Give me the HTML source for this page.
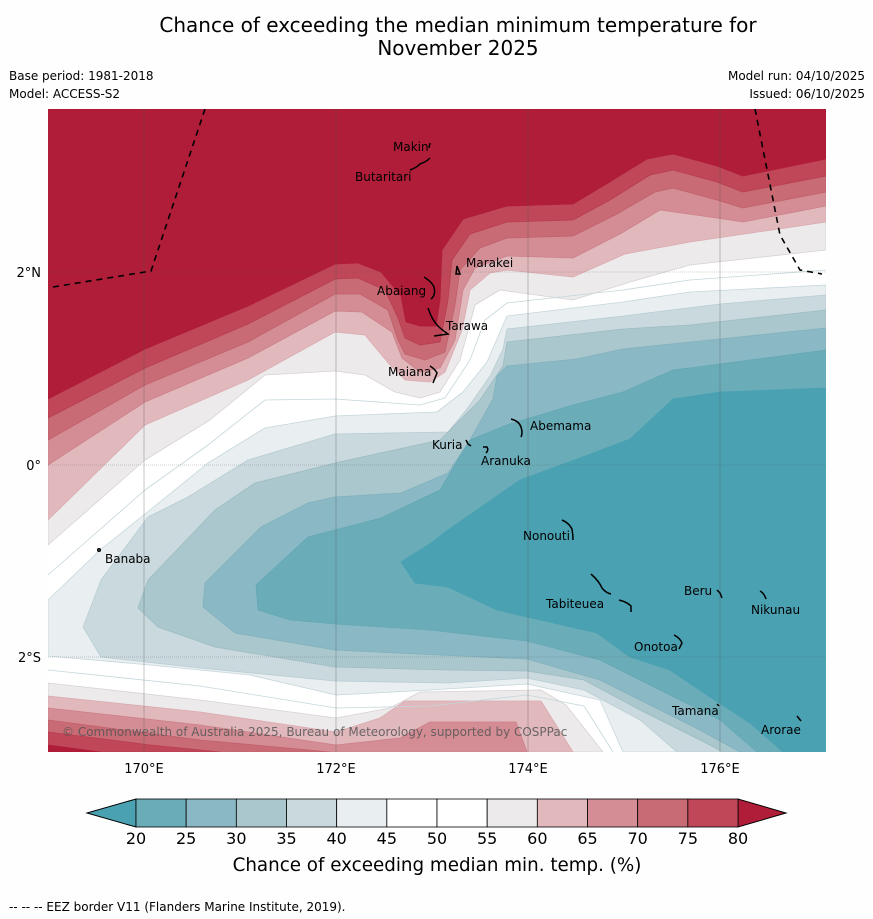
<!DOCTYPE html>
<html><head><meta charset="utf-8">
<style>
html,body{margin:0;padding:0;background:#fff;}
svg{display:block;font-family:"DejaVu Sans","Liberation Sans",sans-serif;}
</style></head>
<body>
<svg id="chart" width="873" height="919" viewBox="0 0 873 919" xmlns="http://www.w3.org/2000/svg">
<rect x="0" y="0" width="873" height="919" fill="#fefefe"/>
<text x="458" y="32" font-size="20" text-anchor="middle" fill="#000">Chance of exceeding the median minimum temperature for</text>
<text x="458" y="55" font-size="20" text-anchor="middle" fill="#000">November 2025</text>
<text x="9" y="80" font-size="12">Base period: 1981-2018</text>
<text x="9" y="98" font-size="12">Model: ACCESS-S2</text>
<text x="865" y="80" font-size="12" text-anchor="end">Model run: 04/10/2025</text>
<text x="865" y="98" font-size="12" text-anchor="end">Issued: 06/10/2025</text>

<defs><clipPath id="mapclip"><rect x="48" y="109" width="778" height="643"/></clipPath></defs>
<g id="map" clip-path="url(#mapclip)">
<rect x="48" y="109" width="778" height="643" fill="#ffffff"/>
<g stroke-width="0.8" stroke-linejoin="round">
<polygon fill="#e9eff1" stroke="#c5d6db" points="826,285 690,292 623,302 507,316 500,332 487,362 463,392 437,412 335,416 265,428 208,463 150,510 100,550 48,600 48,656 150,665 250,675 336,695 430,690 527,684 600,700 623,752 826,752"/>
<polygon fill="#cad9de" stroke="#b8cdd3" points="826,295 720,304 623,316 507,329 503,349 490,376 467,409 448,432 335,434 248,460 188,497 148,517 101,580 83,627 101,657 200,668 335,681 448,683 527,678 584,690 640,720 677,752 826,752"/>
<polygon fill="#a9c7cc" stroke="#9dbcc2" points="826,310 690,325 623,329 507,342 503,366 480,400 460,420 440,440 335,463 255,483 215,510 148,580 138,608 158,627 215,647 335,667 448,670 527,671 584,680 640,710 700,740 723,752 826,752"/>
<polygon fill="#8ab9c5" stroke="#80b1bc" points="826,328 720,339 623,349 577,359 507,366 497,376 493,399 470,440 448,473 401,493 335,497 308,503 261,527 205,583 203,607 235,633 335,650 440,655 527,659 600,680 640,700 700,730 740,752 826,752"/>
<polygon fill="#6aadb9" stroke="#64a8b4" points="826,350 690,368 673,370 623,392 573,405 507,425 470,440 440,490 381,518 308,537 256,585 258,610 290,620 336,624 430,630 527,641 600,660 660,690 720,720 757,752 826,752"/>
<polygon fill="#4aa1b2" stroke="#4aa1b2" points="826,388 720,392 673,399 630,439 580,458 520,480 448,530 431,543 401,562 415,583 448,587 497,610 597,633 630,657 670,670 710,697 750,723 783,752 826,752"/>

<polygon fill="#eceaeb" stroke="#d8d2d4" points="48,109 48,545 145,460 210,420 265,375 335,371 365,375 395,392 420,398 440,392 460,360 475,305 500,290 573,300 630,282 690,265 826,250 826,109"/>
<polygon fill="#e1b9bd" stroke="#d9aab0" points="48,109 48,520 145,425 248,380 335,332 365,335 390,365 405,380 430,382 445,372 462,330 470,290 490,273 507,270 573,277 625,254 690,242 826,222 826,109"/>
<polygon fill="#d48d95" stroke="#cc8089" points="48,109 48,465 145,402 248,358 335,311 362,312 392,332 402,358 420,372 440,368 455,340 463,290 475,268 507,256 573,258 620,234 660,210 717,218 743,222 826,206 826,109"/>
<polygon fill="#c86b75" stroke="#c0606b" points="48,109 48,440 145,385 248,342 335,294 360,294 388,310 398,340 405,354 425,360 445,352 455,305 460,270 480,248 507,238 573,236 615,215 655,192 673,188 717,200 743,208 826,192 826,109"/>
<polygon fill="#bf4757" stroke="#b83d4d" points="48,109 48,418 145,368 248,324 335,279 358,278 385,290 398,318 405,338 420,345 440,342 448,300 452,260 470,234 507,222 573,220 610,200 650,175 673,170 717,182 743,192 826,176 826,109"/>
<polygon fill="#b01d38" stroke="#b01d38" points="48,109 48,399 145,349 248,306 335,264 358,263 381,272 401,296 406,322 420,326 436,326 440,300 442,250 463,219 507,206 573,204 603,186 647,159 673,154 717,166 743,176 826,159 826,109"/>

<polygon fill="#eceaeb" stroke="#d8d2d4" points="48,683 200,700 336,718 390,708 420,692 541,690 566,705 603,752 48,752"/>
<polygon fill="#e1b9bd" stroke="#d9aab0" points="48,696 200,712 336,732 380,718 405,701 541,701 573,752 48,752"/>
<polygon fill="#d48d95" stroke="#cc8089" points="48,708 200,725 336,745 400,738 430,722 516,722 527,752 48,752"/>
<polygon fill="#c86b75" stroke="#c0606b" points="48,720 200,740 330,752 48,752"/>
<polygon fill="#bf4757" stroke="#b83d4d" points="48,732 150,745 220,752 48,752"/>
<polygon fill="#b01d38" stroke="#b01d38" points="48,745 100,752 48,752"/>
</g>
<polyline fill="none" stroke="#c5d6db" stroke-width="0.8" points="48,575 145,490 208,445 265,400 335,399 420,405 445,398 470,360 485,320 507,303 623,290 690,280 826,270"/>
<polyline fill="none" stroke="#c5d6db" stroke-width="0.8" points="48,670 200,686 336,708 430,706 527,695 584,706 613,752"/>

<g stroke="#555" stroke-width="0.6" opacity="0.55">
<line x1="144" y1="109" x2="144" y2="752"/>
<line x1="336" y1="109" x2="336" y2="752"/>
<line x1="528" y1="109" x2="528" y2="752"/>
<line x1="720" y1="109" x2="720" y2="752"/>
<line x1="48" y1="272" x2="826" y2="272" stroke-dasharray="1,1"/>
<line x1="48" y1="465" x2="826" y2="465" stroke-dasharray="1,1"/>
<line x1="48" y1="657" x2="826" y2="657" stroke-dasharray="1,1"/>
</g>
<polyline fill="none" stroke="#000" stroke-width="1.6" stroke-dasharray="6,5" points="53,287 151,271 205,109"/>
<polyline fill="none" stroke="#000" stroke-width="1.6" stroke-dasharray="6,5" points="755,109 780,235 800,270 822,274"/>

<g fill="none" stroke="#000" stroke-width="1.5">
<path d="M430,143 l-1,5"/>
<path d="M410,170 q6,-2 10,-6 q6,-2 10,-6"/>
<path d="M457,266 l3,8 l-4,0 z"/>
<path d="M424,277 q8,5 10,10 q2,8 -3,12"/>
<path d="M428,308 q4,12 10,18 q4,4 10,8 l-14,2"/>
<path d="M430,366 q5,3 7,7 q-2,5 -4,10"/>
<path d="M511,419 q8,2 10,8 q2,6 0,10"/>
<path d="M466,440 l2,4 l3,2"/>
<path d="M483,447 l4,0 q2,3 -1,6"/>
<circle cx="99" cy="550" r="1.3"/>
<path d="M562,520 q7,3 10,9 q1,6 1,11"/>
<path d="M591,574 q8,7 11,14 q4,5 9,6 M619,600 q8,2 12,6 l0,6"/>
<path d="M717,590 l3,3 l2,5"/>
<path d="M760,591 q4,2 6,8"/>
<path d="M674,635 q6,3 8,8 l-3,6"/>
<path d="M717,704 l2,2"/>
<path d="M797,716 l4,5"/>
</g>
<g font-size="12" fill="#000">
<text x="393" y="151">Makin</text>
<text x="355" y="181">Butaritari</text>
<text x="466" y="267">Marakei</text>
<text x="377" y="295">Abaiang</text>
<text x="446" y="330">Tarawa</text>
<text x="388" y="376">Maiana</text>
<text x="530" y="430">Abemama</text>
<text x="432" y="449">Kuria</text>
<text x="481" y="465">Aranuka</text>
<text x="105" y="563">Banaba</text>
<text x="523" y="540">Nonouti</text>
<text x="684" y="595">Beru</text>
<text x="546" y="608">Tabiteuea</text>
<text x="751" y="614">Nikunau</text>
<text x="634" y="651">Onotoa</text>
<text x="672" y="715">Tamana</text>
<text x="761" y="734">Arorae</text>
</g>
<text x="62" y="736" font-size="12" fill="#555" opacity="0.85">© Commonwealth of Australia 2025, Bureau of Meteorology, supported by COSPPac</text>
</g>

<g font-size="13" fill="#000">
<text x="144" y="773" text-anchor="middle">170°E</text>
<text x="336" y="773" text-anchor="middle">172°E</text>
<text x="528" y="773" text-anchor="middle">174°E</text>
<text x="720" y="773" text-anchor="middle">176°E</text>
<text x="41" y="277" text-anchor="end">2°N</text>
<text x="41" y="470" text-anchor="end">0°</text>
<text x="41" y="662" text-anchor="end">2°S</text>
</g>

<g id="colorbar"></g>
<text x="437" y="871" font-size="18.3" text-anchor="middle">Chance of exceeding median min. temp. (%)</text>
<text x="9" y="911" font-size="12">--  --  -- EEZ border V11 (Flanders Marine Institute, 2019).</text>
</svg>
<script>
const levels = [20,25,30,35,40,45,50,55,60,65,70,75,80];
const bandColors = ["#6aadb9","#8ab9c5","#a9c7cc","#cad9de","#e9eff1","#ffffff","#ffffff","#eceaeb","#e1b9bd","#d48d95","#c86b75","#bf4757"];
const underColor = "#4aa1b2";
const overColor = "#b01d38";
const NS = "http://www.w3.org/2000/svg";
const cb = document.getElementById('colorbar');
const x0 = 136, x1 = 738, y0 = 799, y1 = 827;
function xs(v){ return x0 + (v - levels[0]) / (levels[levels.length-1] - levels[0]) * (x1 - x0); }
function mk(tag, attrs){ const e = document.createElementNS(NS, tag); for (const k in attrs) e.setAttribute(k, attrs[k]); return e; }
const tl = mk('polygon', {points: `${x0},${y0} ${x0},${y1} 87,813`, fill: underColor, stroke: '#000', 'stroke-width': 1});


cb.appendChild(tl);
const tr = mk('polygon', {points: `${x1},${y0} ${x1},${y1} 786,813`, fill: overColor, stroke: '#000', 'stroke-width': 1});


cb.appendChild(tr);
for (let i = 0; i < bandColors.length; i++) {
  const a = xs(levels[i]), b = xs(levels[i+1]);
  const r = mk('rect', {x: a, y: y0, width: b - a, height: y1 - y0, fill: bandColors[i], stroke: '#000', 'stroke-width': 0.8});
  
  
  cb.appendChild(r);
}
for (let i = 0; i < levels.length; i++) {
  const t = mk('text', {x: xs(levels[i]), y: 844, 'font-size': 16, 'text-anchor': 'middle'});
  t.textContent = levels[i];
  
  
  cb.appendChild(t);
}
</script>
</body></html>
